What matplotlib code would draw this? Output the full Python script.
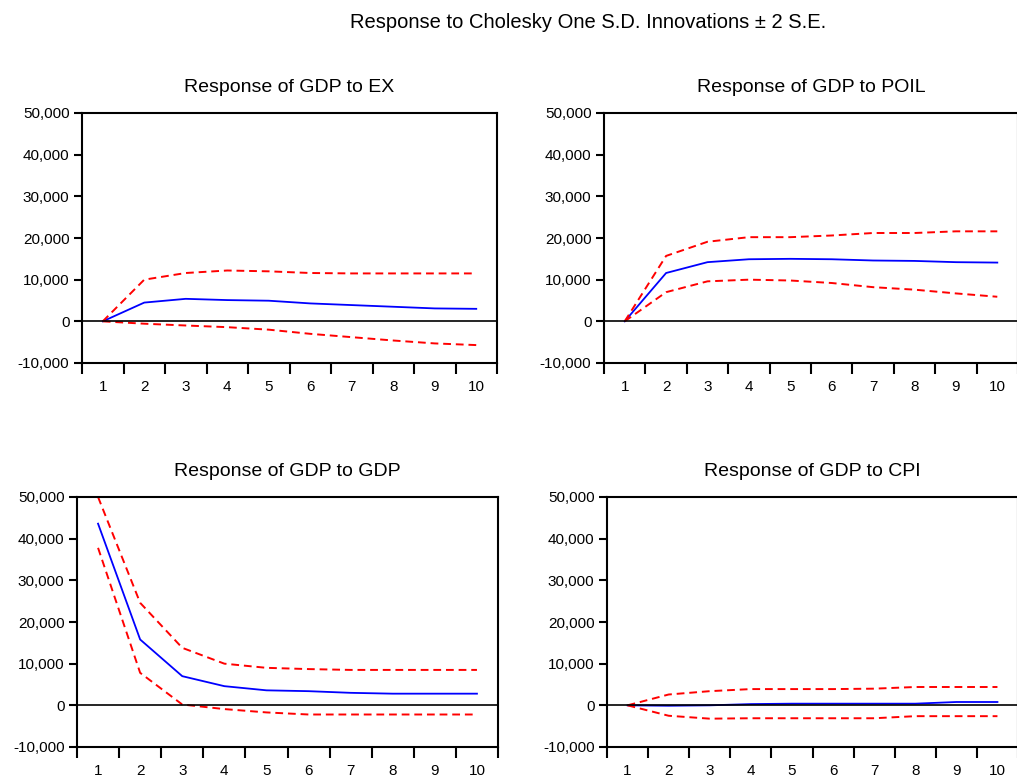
import numpy as np
import matplotlib
matplotlib.use("Agg")
import matplotlib.pyplot as plt

# impulse response periods
periods = np.arange(1, 11)

# Response of GDP to EX
ex_resp = [0, 4500, 5400, 5100, 4950, 4300, 3900, 3500, 3100, 3000]
ex_upper = [0, 10000, 11600, 12200, 12000, 11600, 11500, 11500, 11500, 11500]
ex_lower = [0, -570, -1000, -1400, -2000, -3000, -3800, -4600, -5300, -5700]

# Response of GDP to POIL
poil_resp = [0, 11600, 14200, 14900, 15000, 14900, 14600, 14500, 14200, 14100]
poil_upper = [0, 15700, 19100, 20200, 20200, 20600, 21200, 21200, 21600, 21600]
poil_lower = [0, 7000, 9600, 10000, 9800, 9200, 8200, 7600, 6700, 5900]

# Response of GDP to GDP
gdp_resp = [43600, 15800, 7000, 4600, 3600, 3400, 3000, 2800, 2800, 2800]
gdp_upper = [50000, 24600, 13800, 10000, 9000, 8700, 8500, 8500, 8500, 8500]
gdp_lower = [37800, 7800, 200, -900, -1700, -2200, -2200, -2200, -2200, -2200]

# Response of GDP to CPI
cpi_resp = [0, -100, 0, 300, 400, 400, 400, 400, 800, 800]
cpi_upper = [0, 2600, 3400, 3900, 3900, 3900, 4000, 4400, 4400, 4400]
cpi_lower = [0, -2500, -3200, -3100, -3100, -3100, -3100, -2600, -2600, -2600]

plt.rcParams['font.family'] = ['Liberation Sans', 'DejaVu Sans']

W, H = 1017, 778
fig = plt.figure(figsize=(W / 100, H / 100), dpi=100)

def px_axes(left, top, right, bottom):
    return fig.add_axes([left / W, 1 - bottom / H, (right - left) / W, (bottom - top) / H])

panels = [
    ("Response of GDP to EX", (82, 113, 497, 363), ex_resp, ex_upper, ex_lower),
    ("Response of GDP to POIL", (604, 113, 1018, 363), poil_resp, poil_upper, poil_lower),
    ("Response of GDP to GDP", (77, 497, 498, 747), gdp_resp, gdp_upper, gdp_lower),
    ("Response of GDP to CPI", (607, 497, 1018, 747), cpi_resp, cpi_upper, cpi_lower),
]

for title, box, resp, up, lo in panels:
    ax = px_axes(*box)
    ax.plot(periods, resp, color='#0000ff', lw=1.3)
    ax.plot(periods, up, color='#ff0000', lw=1.4, ls=(0, (4, 2.5)))
    ax.plot(periods, lo, color='#ff0000', lw=1.4, ls=(0, (4, 2.5)))
    ax.axhline(0, color='black', lw=1.2)
    ax.set_xlim(0.5, 10.5)
    ax.set_ylim(-10000, 50000)
    ax.set_yticks(range(-10000, 50001, 10000))
    ax.set_yticklabels([f"{v:,}" for v in range(-10000, 50001, 10000)])
    ax.set_xticks(periods)
    ax.set_xticklabels([str(p) for p in periods])
    ax.set_xticks(np.arange(0.5, 11, 1), minor=True)
    ax.tick_params(axis='x', which='major', length=0, pad=12, labelsize=11)
    ax.tick_params(axis='x', which='minor', length=8, width=1.5, direction='out')
    ax.tick_params(axis='y', length=6, width=1.5, direction='out', labelsize=11, pad=3)
    for s in ax.spines.values():
        s.set_linewidth(1.5)
    ax.set_title(title, fontsize=14, pad=15)

fig.text(588 / W, 1 - 22 / H, "Response to Cholesky One S.D. Innovations \u00b1 2 S.E.",
         ha='center', va='center', fontsize=14.5)

fig.savefig("out.png", dpi=100)
